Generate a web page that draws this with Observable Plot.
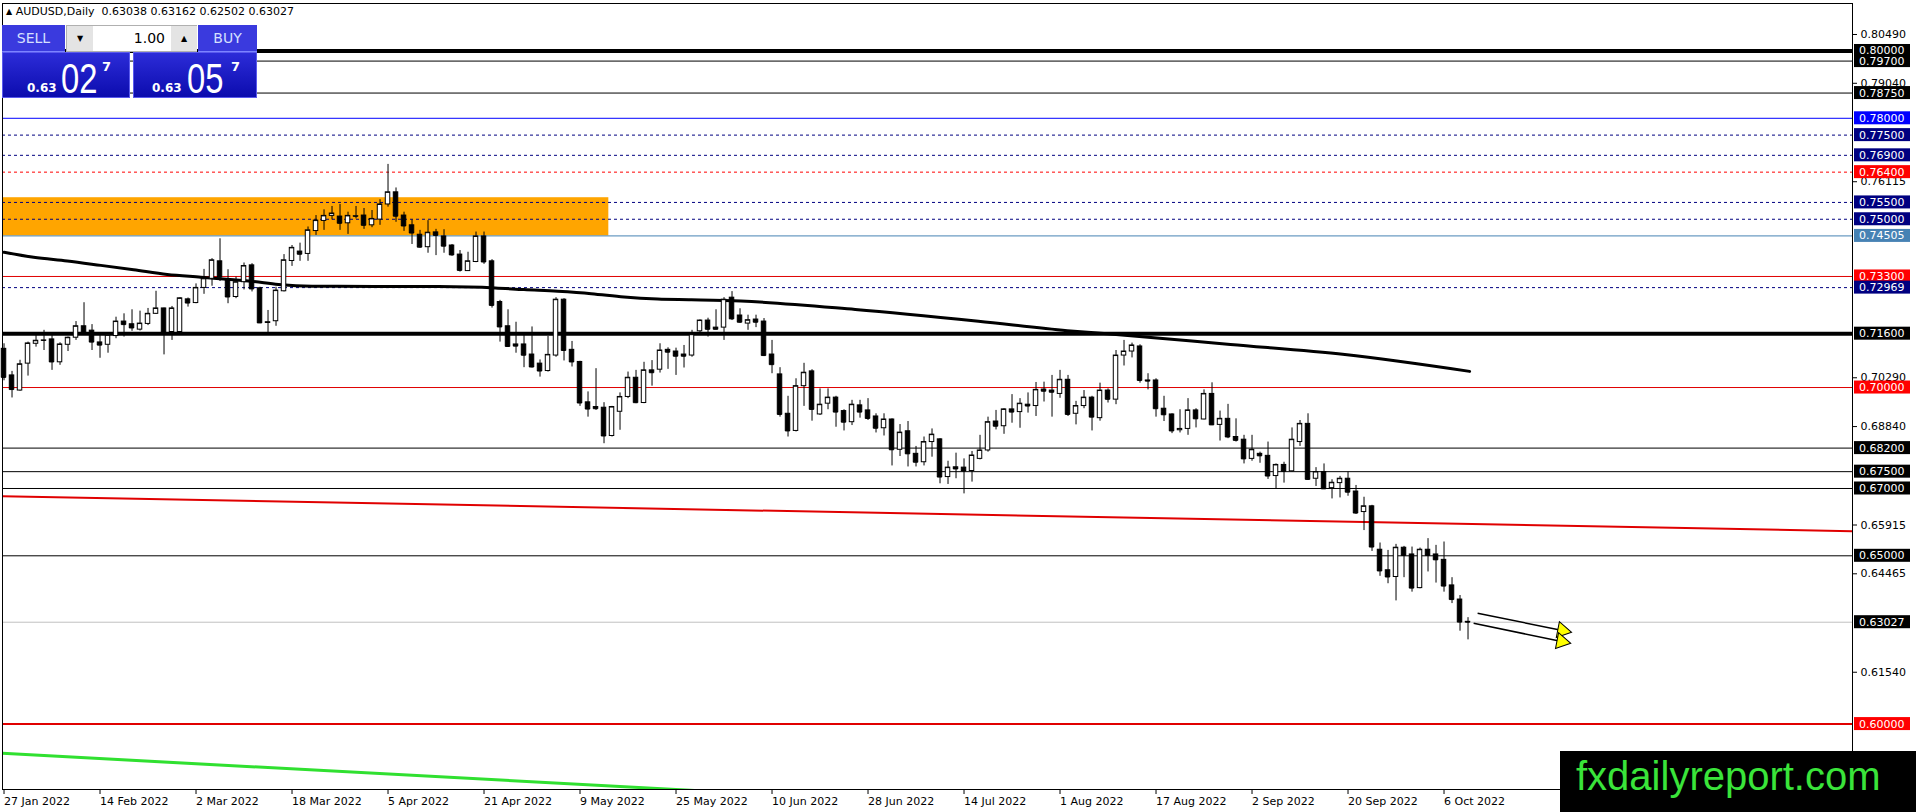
<!DOCTYPE html>
<html>
<head>
<meta charset="utf-8">
<script src="https://cdn.jsdelivr.net/npm/d3@7"></script>
<script src="https://cdn.jsdelivr.net/npm/@observablehq/plot@0.6"></script>
<style>
  html, body { margin: 0; padding: 0; background: #fff; overflow: hidden; }
  #wrap { position: relative; width: 1916px; height: 812px; font-family: "DejaVu Sans", sans-serif; }
  #chart { position: absolute; left: 0; top: 0; }
  #info { position: absolute; left: 6px; top: 5px; font-size: 11px; color: #000; white-space: pre; line-height: 14px; }
  #info .tri { font-size: 8px; vertical-align: 1px; }
  .hdr { position: absolute; top: 25px; height: 27px; background: #3a3ade; color: #d6e0ff; font-size: 14px;
         line-height: 27px; text-align: center; box-sizing: border-box; border-bottom: 1px solid #7c84ff; }
  #lot { position: absolute; left: 66px; top: 25px; width: 131px; height: 27px; background: #f2f2f2; box-sizing: border-box; border: 1px solid #b0b0b0; }
  #lot .btn { position: absolute; top: 0; width: 26px; height: 25px; background: #e4e4e4; font-size: 8px; line-height: 25px; text-align: center; color: #000; }
  #lot .fld { position: absolute; left: 26px; top: 0; width: 78px; height: 25px; background: #fff; font-size: 14px; line-height: 25px; text-align: right; color: #000; box-sizing: border-box; padding-right: 6px; }
  .px { position: absolute; top: 52px; height: 46px; background: linear-gradient(#2c2cd8, #0c0cae); box-sizing: border-box; border: 1px solid #5a5aee; color: #fff; }
  .px .s { position: absolute; top: 28px; font-size: 12px; line-height: 14px; font-weight: bold; }
  .px .b { position: absolute; top: 9px; font-family: "Liberation Sans", Arial, sans-serif; font-size: 42px; line-height: 34px; transform: scaleX(0.78); transform-origin: left top; }
  .px .p { position: absolute; top: 6px; font-size: 13px; line-height: 15px; font-weight: bold; }
  #wm { position: absolute; left: 1560px; top: 751px; width: 356px; height: 61px; background: #000; }
  #wm span { position: absolute; left: 16px; top: 2px; font-family: "Liberation Sans", Arial, sans-serif; font-size: 40px; line-height: 46px; color: #3ae43a; white-space: nowrap; }
</style>
</head>
<body>
<div id="wrap">
  <div id="chart"></div>
  <div id="info"><span class="tri">▲</span> AUDUSD,Daily  0.63038 0.63162 0.62502 0.63027</div>
  <div class="hdr" style="left:2px;width:63px;">SELL</div>
  <div id="lot"><div class="btn" style="left:0">▼</div><div class="fld">1.00</div><div class="btn" style="left:104px">▲</div></div>
  <div class="hdr" style="left:198px;width:59px;">BUY</div>
  <div class="px" style="left:2px;width:128px;"><span class="s" style="left:24px">0.63</span><span class="b" style="left:58px">02</span><span class="p" style="left:99px">7</span></div>
  <div class="px" style="left:133px;width:124px;"><span class="s" style="left:18px">0.63</span><span class="b" style="left:53px">05</span><span class="p" style="left:97px">7</span></div>
  <div id="wm"><span>fxdailyreport.com</span></div>
</div>
<script>
// ---------- data ----------
const opens = [0.7115,0.7036,0.6991,0.7071,0.7130,0.7139,0.7143,0.7075,0.7127,0.7148,
0.7182,0.7169,0.7134,0.7127,0.7153,0.7196,0.7188,0.7172,0.7189,0.7219,
0.7235,0.7165,0.7165,0.7262,0.7251,0.7296,0.7323,0.7375,0.7318,0.7269,
0.7313,0.7363,0.7295,0.7192,0.7197,0.7286,0.7376,0.7404,0.7397,0.7465,
0.7495,0.7510,0.7508,0.7488,0.7508,0.7511,0.7482,0.7499,0.7544,0.7580,
0.7511,0.7482,0.7454,0.7417,0.7461,0.7449,0.7422,0.7395,0.7346,0.7373,
0.7449,0.7375,0.7254,0.7182,0.7128,0.7128,0.7098,0.7071,0.7049,0.7095,
0.7261,0.7112,0.7076,0.6956,0.6942,0.6940,0.6856,0.6928,0.6972,0.7029,
0.6954,0.7051,0.7053,0.7112,0.7107,0.7098,0.7095,0.7167,0.7199,0.7178,
0.7178,0.7267,0.7214,0.7190,0.7202,0.7196,0.7098,0.7039,0.6922,0.6871,
0.7004,0.7048,0.6920,0.6952,0.6970,0.6930,0.6897,0.6947,0.6932,0.6914,
0.6879,0.6905,0.6815,0.6870,0.6803,0.6778,0.6838,0.6846,0.6734,0.6763,
0.6762,0.6752,0.6788,0.6813,0.6899,0.6885,0.6935,0.6927,0.6949,0.6945,
0.6994,0.6991,0.6981,0.7023,0.6922,0.6945,0.6970,0.6909,0.6991,0.6964,
0.7095,0.7107,0.7122,0.7021,0.7021,0.6937,0.6920,0.6873,0.6877,0.6932,
0.6905,0.6981,0.6889,0.6907,0.6853,0.6845,0.6788,0.6803,0.6797,0.6737,
0.6770,0.6751,0.6838,0.6892,0.6729,0.6749,0.6701,0.6716,0.6729,0.6691,
0.6630,0.6647,0.6518,0.6457,0.6437,0.6524,0.6504,0.6404,0.6518,0.6504,
0.6488,0.6412,0.6370,0.63038];
const highs = [0.7130,0.7048,0.7081,0.7135,0.7162,0.7170,0.7158,0.7133,0.7150,0.7196,
0.7252,0.7187,0.7155,0.7162,0.7209,0.7219,0.7231,0.7227,0.7235,0.7286,
0.7236,0.7241,0.7267,0.7266,0.7308,0.7351,0.7383,0.7442,0.7350,0.7328,
0.7370,0.7368,0.7298,0.7229,0.7298,0.7395,0.7422,0.7429,0.7477,0.7511,
0.7528,0.7538,0.7544,0.7521,0.7538,0.7532,0.7526,0.7558,0.7663,0.7593,
0.7521,0.7498,0.7467,0.7496,0.7470,0.7469,0.7425,0.7407,0.7402,0.7462,
0.7462,0.7380,0.7259,0.7231,0.7194,0.7155,0.7180,0.7082,0.7152,0.7267,
0.7264,0.7137,0.7078,0.6987,0.7056,0.6955,0.6944,0.6984,0.7046,0.7051,
0.7075,0.7080,0.7130,0.7118,0.7117,0.7125,0.7170,0.7201,0.7206,0.7231,
0.7267,0.7285,0.7234,0.7215,0.7215,0.7205,0.7140,0.7059,0.6974,0.7026,
0.7072,0.7053,0.6996,0.6996,0.6974,0.6934,0.6962,0.6962,0.6967,0.6922,
0.6922,0.6907,0.6890,0.6899,0.6825,0.6853,0.6877,0.6848,0.6781,0.6805,
0.6788,0.6810,0.6858,0.6912,0.6932,0.6937,0.6979,0.6967,0.6984,0.7015,
0.7016,0.7036,0.7051,0.7036,0.6959,0.6991,0.6974,0.7013,0.6996,0.7110,
0.7140,0.7132,0.7127,0.7041,0.7026,0.6974,0.6922,0.6934,0.6967,0.6937,
0.6993,0.7014,0.6930,0.6950,0.6907,0.6858,0.6858,0.6808,0.6838,0.6773,
0.6778,0.6880,0.6902,0.6922,0.6762,0.6773,0.6726,0.6736,0.6749,0.6709,
0.6674,0.6650,0.6538,0.6516,0.6534,0.6528,0.6526,0.6523,0.6551,0.6531,
0.6541,0.6435,0.6382,0.63162];
const lows = [0.7020,0.6969,0.6989,0.7034,0.7120,0.7110,0.7051,0.7066,0.7107,0.7140,
0.7155,0.7110,0.7087,0.7102,0.7145,0.7150,0.7167,0.7168,0.7184,0.7217,
0.7097,0.7140,0.7163,0.7239,0.7249,0.7277,0.7301,0.7315,0.7249,0.7264,
0.7290,0.7284,0.7190,0.7162,0.7182,0.7284,0.7360,0.7375,0.7375,0.7452,
0.7467,0.7498,0.7467,0.7455,0.7501,0.7470,0.7475,0.7482,0.7536,0.7491,
0.7464,0.7425,0.7414,0.7399,0.7392,0.7399,0.7390,0.7343,0.7345,0.7371,
0.7366,0.7236,0.7135,0.7120,0.7102,0.7059,0.7058,0.7031,0.7046,0.7090,
0.7079,0.7061,0.6944,0.6912,0.6932,0.6833,0.6853,0.6873,0.6967,0.6952,
0.6952,0.7004,0.7043,0.7054,0.7036,0.7058,0.7090,0.7160,0.7150,0.7172,
0.7140,0.7199,0.7191,0.7170,0.7178,0.7092,0.7041,0.6912,0.6853,0.6868,
0.6944,0.6900,0.6917,0.6934,0.6882,0.6871,0.6887,0.6909,0.6902,0.6865,
0.6856,0.6767,0.6795,0.6764,0.6764,0.6767,0.6793,0.6714,0.6712,0.6729,
0.6684,0.6719,0.6785,0.6808,0.6874,0.6861,0.6894,0.6879,0.6924,0.6914,
0.6957,0.6912,0.6968,0.6914,0.6889,0.6937,0.6871,0.6900,0.6954,0.6949,
0.7064,0.7088,0.7013,0.6993,0.6912,0.6899,0.6863,0.6865,0.6858,0.6880,
0.6904,0.6887,0.6841,0.6848,0.6838,0.6773,0.6781,0.6775,0.6727,0.6699,
0.6716,0.6749,0.6825,0.6724,0.6706,0.6697,0.6669,0.6672,0.6677,0.6623,
0.6575,0.6513,0.6439,0.6417,0.6366,0.6435,0.6392,0.6402,0.6452,0.6419,
0.6392,0.6358,0.6276,0.62502];
const closes = [0.7030,0.6994,0.7069,0.7131,0.7139,0.7140,0.7076,0.7128,0.7148,0.7182,
0.7160,0.7135,0.7126,0.7155,0.7196,0.7187,0.7177,0.7190,0.7219,0.7235,
0.7163,0.7235,0.7265,0.7251,0.7296,0.7323,0.7378,0.7328,0.7269,0.7313,
0.7361,0.7293,0.7192,0.7194,0.7288,0.7378,0.7415,0.7396,0.7467,0.7496,
0.7510,0.7517,0.7488,0.7510,0.7509,0.7482,0.7501,0.7544,0.7580,0.7509,
0.7480,0.7459,0.7417,0.7460,0.7452,0.7420,0.7394,0.7348,0.7375,0.7449,
0.7373,0.7244,0.7180,0.7122,0.7123,0.7096,0.7061,0.7049,0.7097,0.7261,
0.7110,0.7076,0.6954,0.6936,0.6937,0.6856,0.6942,0.6972,0.7029,0.6955,
0.7051,0.7044,0.7110,0.7105,0.7093,0.7093,0.7157,0.7199,0.7173,0.7173,
0.7261,0.7204,0.7194,0.7200,0.7194,0.7095,0.7068,0.6920,0.6871,0.7004,
0.7044,0.6935,0.6949,0.6970,0.6927,0.6897,0.6949,0.6927,0.6908,0.6879,
0.6905,0.6815,0.6866,0.6803,0.6778,0.6838,0.6860,0.6734,0.6762,0.6758,
0.6752,0.6798,0.6813,0.6897,0.6885,0.6935,0.6927,0.6952,0.6945,0.6993,
0.6989,0.6986,0.7023,0.6920,0.6945,0.6970,0.6912,0.6991,0.6965,0.7095,
0.7107,0.7125,0.7021,0.7019,0.6937,0.6919,0.6871,0.6877,0.6932,0.6907,
0.6981,0.6889,0.6907,0.6853,0.6843,0.6788,0.6815,0.6797,0.6737,0.6770,
0.6751,0.6845,0.6892,0.6727,0.6749,0.6699,0.6717,0.6729,0.6689,0.6627,
0.6647,0.6526,0.6455,0.6437,0.6524,0.6501,0.6404,0.6518,0.6501,0.6488,
0.6410,0.6370,0.6303,0.63027];

// date tick labels (every 12th daily bar)
const dateTickBars = [0,12,24,36,48,60,72,84,96,108,120,132,144,156,168,180];
const dateTickLabels = ["27 Jan 2022","14 Feb 2022","2 Mar 2022","18 Mar 2022","5 Apr 2022","21 Apr 2022","9 May 2022","25 May 2022","10 Jun 2022","28 Jun 2022","14 Jul 2022","1 Aug 2022","17 Aug 2022","2 Sep 2022","20 Sep 2022","6 Oct 2022"];

// visible price-scale ticks
const priceTicks = [0.80490,0.79040,0.76115,0.70290,0.68840,0.65915,0.64465,0.61540];

// horizontal levels and their kinds
const levelPrices = [0.80000,0.79700,0.78750,0.78000,0.77500,0.76900,0.76400,0.75500,0.75000,0.74505,0.73300,0.72969,0.71600,0.70000,0.68200,0.67500,0.67000,0.65000,0.63027,0.60000];
const levelKinds  = ["heavy","black","black","blue","navyDash","navyDash","redDash","navyDash","navyDash","steel","red","navyDash","heavy","red","black","black","black","black","bid","redHeavy"];

// moving average (read at sampled bars)
const maBars   = [0,3.7,7.9,12.1,16.2,20.4,24.6,28.7,30.8,34.3,38.5,54.3,61.4,65,69.2,73.4,77.5,81.7,85.9,92.1,106.4,121.8,132.9,137.9,153.3,167.6,183.2];
const maValues = [0.7402,0.7387,0.7376,0.7363,0.7350,0.7336,0.7328,0.7320,0.7316,0.7306,0.7301,0.7300,0.7296,0.7291,0.7286,0.7279,0.7269,0.7263,0.7261,0.7257,0.7232,0.7197,0.7169,0.7160,0.7128,0.7098,0.7048];

// trend lines (endpoints at the chart edges)
const redTrendBars = [-0.19, 231.06];
const redTrendValues = [0.6677, 0.6573];
const greenTrendBars = [-0.19, 231.06];
const greenTrendValues = [0.5913, 0.5618];

// supply zone
const zoneBars = [-0.19, 75.6];
const zonePrices = [0.74505, 0.7564];

// projection arrows
const arrowStartBars = [184.2, 183.7];
const arrowStartPrices = [0.63295, 0.62997];
const arrowEndBars = [194.8, 194.7];
const arrowEndPrices = [0.6278, 0.62453];

// ---------- styling ----------
const kindStyle = {
  heavy:    {stroke: "#000",    width: 4,   dash: null,  box: "#000"},
  black:    {stroke: "#000",    width: 1,   dash: null,  box: "#000"},
  blue:     {stroke: "#0000ff", width: 1,   dash: null,  box: "#0000ff"},
  navyDash: {stroke: "#000080", width: 1,   dash: "3,3", box: "#000080"},
  redDash:  {stroke: "#ff0000", width: 1,   dash: "3,3", box: "#ff0000"},
  steel:    {stroke: "#4682b4", width: 1,   dash: null,  box: "#4682b4"},
  red:      {stroke: "#e00000", width: 1,   dash: null,  box: "#ff0000"},
  bid:      {stroke: "#c0c0c0", width: 1,   dash: null,  box: "#000"},
  redHeavy: {stroke: "#e00000", width: 2,   dash: null,  box: "#ff0000"}
};

// ---------- tables ----------
const bars = opens.map((o, i) => ({i, o, h: highs[i], l: lows[i], c: closes[i]}));
const upBars = bars.filter(d => d.c >= d.o);
const downBars = bars.filter(d => d.c < d.o);
const levels = levelPrices.map((p, k) => ({p, kind: levelKinds[k]}));
const ma = maBars.map((b, k) => ({b, v: maValues[k]}));
const redTrend = redTrendBars.map((b, k) => ({b, v: redTrendValues[k]}));
const greenTrend = greenTrendBars.map((b, k) => ({b, v: greenTrendValues[k]}));
const zone = [{x1: zoneBars[0], x2: zoneBars[1], y1: zonePrices[0], y2: zonePrices[1]}];
const arrows = arrowStartBars.map((b, k) => ({x1: b, y1: arrowStartPrices[k], x2: arrowEndBars[k], y2: arrowEndPrices[k]}));

const halfBody = 0.28;

const levelMarks = Object.keys(kindStyle).map(kind => {
  const s = kindStyle[kind];
  return Plot.ruleY(levels.filter(d => d.kind === kind), {y: "p", stroke: s.stroke, strokeWidth: s.width, strokeDasharray: s.dash || undefined});
});

function levelLabels(index, scales, values, dimensions) {
  const g = d3.create("svg:g")
    .attr("font-family", "DejaVu Sans, sans-serif")
    .attr("font-size", 11)
    .attr("text-anchor", "start");
  const x0 = dimensions.width - dimensions.marginRight + 2;
  levels.forEach(d => {
    const y = scales.y(d.p);
    g.append("rect").attr("x", x0).attr("y", y - 6.5).attr("width", 56).attr("height", 13).attr("fill", kindStyle[d.kind].box);
    g.append("text").attr("x", x0 + 5).attr("y", y).attr("dy", "0.36em").attr("text-anchor", "start").attr("fill", "#fff").text(d.p.toFixed(5));
  });
  return g.node();
}

const chart = Plot.plot({
  width: 1916,
  height: 812,
  marginLeft: 2,
  marginRight: 64,
  marginTop: 3,
  marginBottom: 23,
  x: {domain: [-0.19, 231.06]},
  y: {domain: [0.58056, 0.81411]},
  style: {fontFamily: "DejaVu Sans, sans-serif", fontSize: "11px", background: "#fff", color: "#000", overflow: "visible"},
  marks: [
    Plot.rect(zone, {x1: "x1", x2: "x2", y1: "y1", y2: "y2", fill: "#ffa500", clip: true}),
    ...levelMarks,
    Plot.line(greenTrend, {x: "b", y: "v", stroke: "#30e030", strokeWidth: 3, clip: true}),
    Plot.line(redTrend, {x: "b", y: "v", stroke: "#e00000", strokeWidth: 2, clip: true}),
    Plot.line(ma, {x: "b", y: "v", stroke: "#000", strokeWidth: 3, curve: "monotone-x"}),
    Plot.ruleX(bars, {x: "i", y1: "l", y2: "h", stroke: "#000", strokeWidth: 1}),
    Plot.rect(upBars, {x1: d => d.i - halfBody, x2: d => d.i + halfBody, y1: "o", y2: "c", fill: "#fff", stroke: "#000", strokeWidth: 1}),
    Plot.rect(downBars, {x1: d => d.i - halfBody, x2: d => d.i + halfBody, y1: "o", y2: "c", fill: "#000", stroke: "#000", strokeWidth: 1}),
    Plot.ruleY(bars, {x1: d => d.i - halfBody, x2: d => d.i + halfBody, y: "c", stroke: "#000", strokeWidth: 1}),
    Plot.link(arrows, {x1: "x1", y1: "y1", x2: "x2", y2: "y2", stroke: "#000", strokeWidth: 1.5}),
    Plot.dot(arrows, {x: "x2", y: "y2", symbol: "triangle", r: 6, fill: "#ffff00", stroke: "#000", strokeWidth: 1, rotate: 101}),
    Plot.frame({stroke: "#000"}),
    Plot.axisY(priceTicks, {anchor: "right", tickSize: 4, tickPadding: 4, tickFormat: d => d.toFixed(5), fontSize: 11, label: null}),
    Plot.axisX(dateTickBars, {anchor: "bottom", tickSize: 5, tickPadding: 3, textAnchor: "start", dx: 0, tickFormat: d => dateTickLabels[dateTickBars.indexOf(d)], fontSize: 11, label: null}),
    levelLabels
  ]
});
document.getElementById("chart").appendChild(chart);
</script>
</body>
</html>
